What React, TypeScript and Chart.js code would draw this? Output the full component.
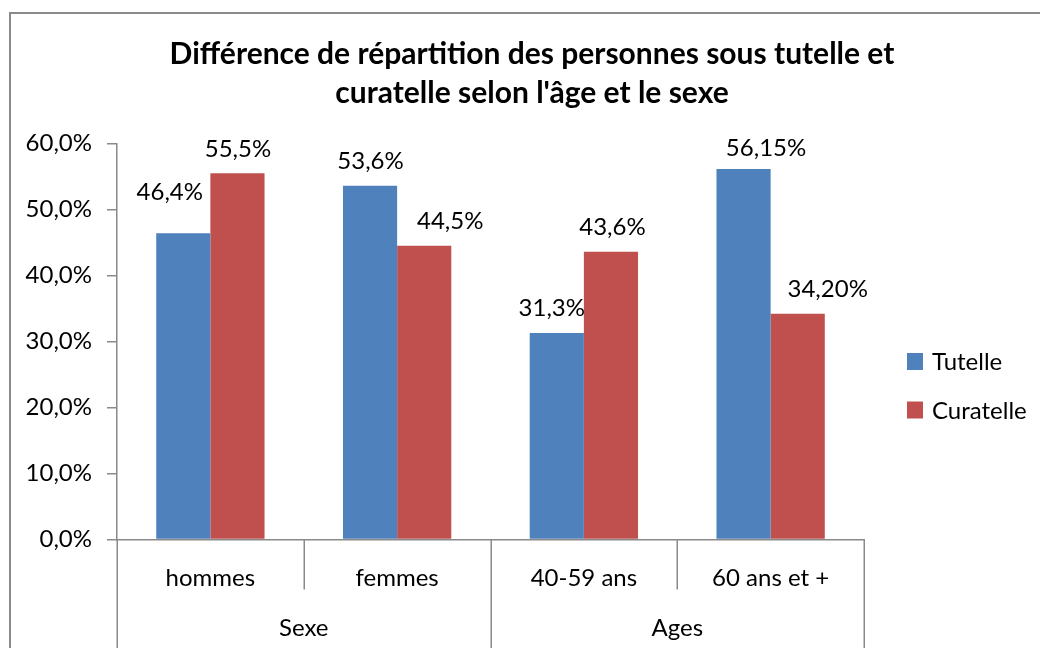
import React, { useEffect, useRef } from "react";
import { Chart, registerables } from "chart.js";

Chart.register(...registerables);

// ---- data ----
const categories = ["hommes", "femmes", "40-59 ans", "60 ans et +"];
const groups = ["Sexe", "Ages"];
const groupSizes = [2, 2];
const tutelle = [46.4, 53.6, 31.3, 56.15];
const curatelle = [55.5, 44.5, 43.6, 34.2];
const tutelleLabels = ["46,4%", "53,6%", "31,3%", "56,15%"];
const curatelleLabels = ["55,5%", "44,5%", "43,6%", "34,20%"];
const seriesNames = ["Tutelle", "Curatelle"];
const yMin = 0;
const yMax = 60;
const yStep = 10;
const titleLines = [
  "Différence de répartition des personnes sous tutelle et",
  "curatelle selon l'âge et le sexe",
];

// ---- style ----
const FONT = "Lato, 'Noto Sans', sans-serif";
const TEXT_SIZE = 24;
const BLUE = "#4F81BD";
const RED = "#C0504D";
const AXIS = "#8a8a8a";
// manual label nudges (relative to bar top centre), as placed in the original
const LABEL_SHIFT = [
  [[-13.5, -41], [0.5, -24.5], [-5, -25], [22.5, -21]],
  [[0.5, -24], [26, -24.5], [1.5, -24], [30, -25]],
];
const LABELS = [tutelleLabels, curatelleLabels];

const fmt = (v: number) => v.toFixed(1).replace(".", ",") + "%";

const overlay = {
  id: "overlay",
  beforeDraw(chart: any) {
    const { ctx } = chart;
    ctx.save();
    ctx.fillStyle = "#fff";
    ctx.fillRect(0, 0, chart.width, chart.height);
    ctx.strokeStyle = AXIS;
    ctx.lineWidth = 2;
    ctx.strokeRect(10, 13, 1200, 900);
    ctx.restore();
  },
  afterDraw(chart: any) {
    const { ctx, chartArea } = chart;
    const xs = chart.scales.x;
    ctx.save();
    ctx.font = `${TEXT_SIZE}px ${FONT}`;
    ctx.fillStyle = "#000";
    ctx.textAlign = "center";
    ctx.textBaseline = "middle";
    // data labels
    chart.data.datasets.forEach((_ds: any, di: number) => {
      const meta = chart.getDatasetMeta(di);
      meta.data.forEach((bar: any, i: number) => {
        const [dx, dy] = LABEL_SHIFT[di][i];
        ctx.fillText(LABELS[di][i], bar.x + dx, bar.y + dy);
      });
    });
    // multi-level category axis
    const n = categories.length;
    const w = (xs.right - xs.left) / n;
    const groupEdges = new Set<number>([0]);
    let acc = 0;
    groupSizes.forEach((s) => {
      acc += s;
      groupEdges.add(acc);
    });
    ctx.strokeStyle = AXIS;
    ctx.lineWidth = 1.5;
    for (let i = 0; i <= n; i++) {
      const bx = Math.round(xs.left + i * w) + 0.25;
      const yEnd = groupEdges.has(i) ? chart.height : chartArea.bottom + 50;
      ctx.beginPath();
      ctx.moveTo(bx, chartArea.bottom);
      ctx.lineTo(bx, yEnd);
      ctx.stroke();
    }
    categories.forEach((c, i) => {
      ctx.fillText(c, xs.getPixelForValue(i), chartArea.bottom + 39);
    });
    let start = 0;
    groups.forEach((g, gi) => {
      const end = start + groupSizes[gi];
      const cx = xs.left + ((start + end) / 2) * w;
      ctx.fillText(g, cx, chartArea.bottom + 89);
      start = end;
    });
    // legend
    const colors = [BLUE, RED];
    ctx.textAlign = "left";
    seriesNames.forEach((name, i) => {
      const cy = chartArea.top + 218 + i * 48.5;
      const lx = chartArea.right + 43;
      ctx.fillStyle = colors[i];
      ctx.fillRect(lx, cy - 8.5, 16, 17);
      ctx.fillStyle = "#000";
      ctx.fillText(name, lx + 25, cy + 1);
    });
    ctx.restore();
  },
};

export default function App() {
  const ref = useRef<HTMLCanvasElement | null>(null);
  useEffect(() => {
    if (!ref.current) return;
    const chart = new Chart(ref.current, {
      type: "bar",
      data: {
        labels: categories,
        datasets: [
          {
            label: seriesNames[0],
            data: tutelle,
            backgroundColor: BLUE,
            yAxisID: "y",
            categoryPercentage: 0.58,
            barPercentage: 1,
          },
          {
            label: seriesNames[1],
            data: curatelle,
            backgroundColor: RED,
            yAxisID: "y",
            categoryPercentage: 0.58,
            barPercentage: 1,
          },
        ],
      },
      options: {
        responsive: false,
        animation: false,
        devicePixelRatio: 1,
        layout: { padding: { left: 24, top: 0, right: 0, bottom: 0 } },
        plugins: {
          legend: { display: false },
          tooltip: { enabled: false },
          title: {
            display: true,
            text: titleLines,
            color: "#000",
            font: { family: FONT, size: 30, weight: "bold", lineHeight: 39 / 30 },
            padding: { top: 34.5, bottom: 31 },
          },
        },
        scales: {
          x: {
            grid: { display: false },
            border: { display: true, color: AXIS, width: 1.5 },
            ticks: { display: false },
            afterFit: (s: any) => {
              s.height = 108.5;
            },
          },
          y: {
            min: yMin,
            max: yMax,
            position: "left",
            border: { display: true, color: AXIS, width: 1.5 },
            grid: {
              drawOnChartArea: false,
              drawTicks: true,
              tickLength: 10,
              color: AXIS,
              lineWidth: 1.5,
            },
            ticks: {
              stepSize: yStep,
              padding: 15,
              color: "#000",
              font: { family: FONT, size: TEXT_SIZE },
              callback: (v: any) => fmt(Number(v)),
            },
            afterFit: (s: any) => {
              s.width = 93;
            },
          },
          rpad: {
            type: "linear",
            position: "right",
            display: true,
            grid: { display: false },
            border: { display: false },
            ticks: { display: false },
            afterFit: (s: any) => {
              s.width = 176;
            },
          },
        },
      } as any,
      plugins: [overlay],
    });
    return () => chart.destroy();
  }, []);
  return (
    <div style={{ position: "fixed", left: 0, top: 0, width: 1040, height: 648, overflow: "hidden" }}>
      <canvas ref={ref} width={1040} height={648} style={{ display: "block" }} />
    </div>
  );
}
